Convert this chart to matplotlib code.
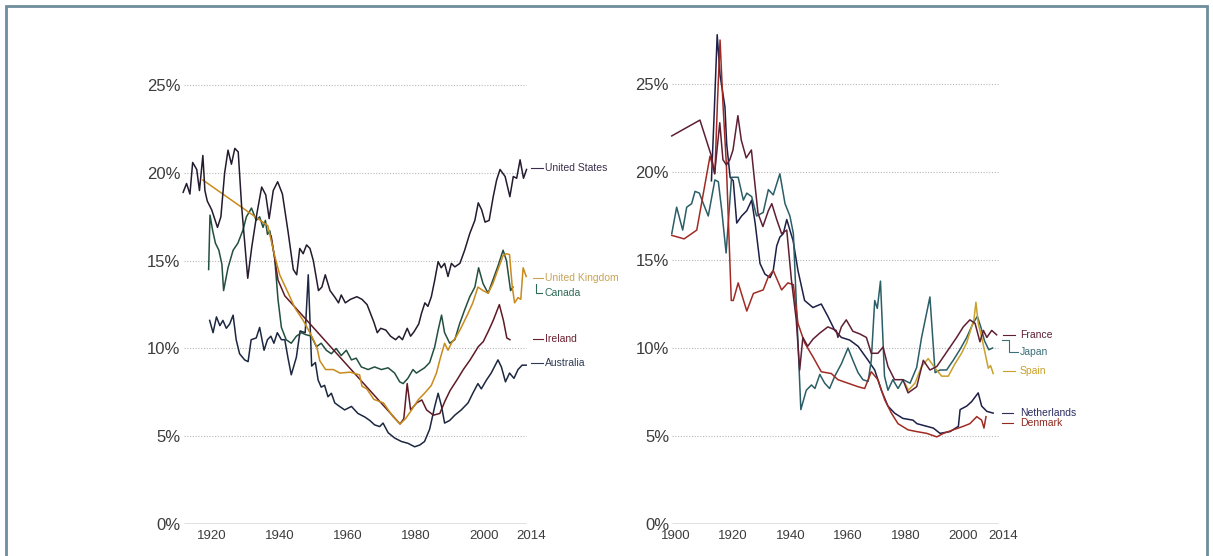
import matplotlib
matplotlib.use('Agg')
import matplotlib.pyplot as plt
from matplotlib.patches import Rectangle

plt.rcParams['font.family'] = ['Liberation Sans', 'DejaVu Sans']

# ---- left panel: English-speaking countries (top 1% income share, %) ----
us_years = [1911.6, 1912.6, 1913.6, 1914.4, 1915.6, 1916.4, 1917.4, 1918.0, 1918.7, 1920.0,
            1921.7, 1922.7, 1923.8, 1924.8, 1925.8, 1926.8, 1927.8, 1928.8, 1930.6, 1931.8,
            1933.3, 1934.7, 1935.9, 1936.9, 1938.1, 1939.4, 1940.8, 1942.5, 1944.0, 1945.0,
            1945.9, 1946.9, 1947.9, 1948.9, 1949.9, 1951.4, 1952.4, 1953.4, 1954.8, 1956.3,
            1957.3, 1958.1, 1959.3, 1960.8, 1962.7, 1964.2, 1965.7, 1966.7, 1967.7, 1968.7,
            1969.7, 1971.2, 1972.6, 1974.1, 1975.1, 1976.1, 1977.5, 1978.5, 1979.5, 1980.9,
            1981.7, 1982.7, 1983.6, 1984.6, 1985.6, 1986.6, 1987.5, 1988.5, 1989.5, 1990.5,
            1991.5, 1993.0, 1994.4, 1995.9, 1997.4, 1998.4, 1999.4, 2000.4, 2001.6, 2002.8,
            2003.8, 2004.8, 2006.3, 2007.7, 2008.7, 2009.7, 2010.7, 2011.7, 2012.6]
us_vals = [18.9, 19.4, 18.8, 20.6, 20.2, 19.0, 21.0, 19.0, 18.4, 17.9,
           16.9, 17.5, 20.0, 21.3, 20.5, 21.4, 21.2, 18.1, 14.0, 15.8,
           17.7, 19.2, 18.75, 17.4, 19.0, 19.5, 18.8, 16.6, 14.5, 14.2,
           15.7, 15.4, 15.9, 15.7, 15.0, 13.3, 13.5, 14.2, 13.3, 12.9,
           12.6, 13.05, 12.6, 12.8, 12.95, 12.8, 12.5, 12.0, 11.5, 10.9,
           11.15, 11.05, 10.7, 10.5, 10.7, 10.5, 11.15, 10.7, 10.95, 11.4,
           12.0, 12.6, 12.4, 12.95, 13.9, 14.95, 14.6, 14.85, 14.1, 14.85,
           14.65, 14.85, 15.6, 16.55, 17.3, 18.3, 17.9, 17.2, 17.3, 18.65,
           19.6, 20.2, 19.8, 18.65, 19.8, 19.7, 20.75, 19.7, 20.2]

uk_years = [1917.4, 1936.5, 1938.5, 1940.0, 1942.4, 1944.5, 1946.9, 1948.9, 1950.9, 1951.8,
            1953.5, 1955.8, 1957.7, 1960.7, 1963.5, 1964.2, 1965.6, 1967.7, 1970.5, 1973.4,
            1975.4, 1977.0, 1978.8, 1980.7, 1982.6, 1984.6, 1986.1, 1987.1, 1988.5, 1989.5,
            1990.5, 1992.0, 1993.4, 1995.4, 1996.8, 1998.3, 1999.8, 2001.3, 2002.7, 2004.2,
            2005.7, 2006.7, 2007.6, 2008.4, 2009.1, 2010.1, 2010.9, 2011.6, 2012.5]
uk_vals = [19.6, 17.0, 15.3, 14.2, 13.2, 12.3, 11.6, 10.9, 10.1, 9.3,
           8.8, 8.8, 8.6, 8.65, 8.5, 7.85, 7.7, 7.1, 6.9, 6.1,
           5.7, 6.0, 6.5, 7.07, 7.45, 7.9, 8.6, 9.35, 10.3, 9.9,
           10.3, 10.7, 11.2, 12.0, 12.6, 13.5, 13.3, 13.15, 13.7, 14.5,
           15.3, 15.4, 15.35, 13.5, 12.6, 12.9, 12.8, 14.6, 14.1]

canada_years = [1919.1, 1919.5, 1920.3, 1921.1, 1922.1, 1923.0, 1923.5, 1924.8, 1926.3, 1927.7,
                1929.2, 1930.2, 1931.7, 1933.1, 1934.1, 1935.1, 1935.8, 1936.4, 1937.1, 1938.5,
                1939.5, 1940.5, 1941.9, 1943.4, 1944.9, 1946.4, 1947.5, 1949.3, 1950.8, 1952.2,
                1953.7, 1955.2, 1956.6, 1958.1, 1959.6, 1961.1, 1962.5, 1964.0, 1966.0, 1967.9,
                1969.9, 1971.9, 1973.8, 1975.3, 1976.3, 1977.7, 1979.2, 1980.2, 1982.6, 1984.1,
                1985.6, 1986.6, 1987.6, 1988.5, 1990.0, 1991.5, 1992.9, 1994.4, 1995.9, 1997.4,
                1998.5, 1999.8, 2001.3, 2002.7, 2004.2, 2005.7, 2006.7, 2007.9, 2008.6]
canada_vals = [14.5, 17.6, 16.7, 16.0, 15.6, 14.8, 13.3, 14.6, 15.6, 16.0,
               16.75, 17.5, 18.0, 17.3, 17.5, 16.9, 17.3, 16.5, 16.7, 15.2,
               12.8, 11.2, 10.5, 10.3, 10.7, 10.9, 10.8, 10.7, 10.1, 10.3,
               9.9, 9.7, 10.0, 9.6, 9.9, 9.35, 9.45, 8.95, 8.8, 8.95,
               8.8, 8.9, 8.6, 8.1, 8.0, 8.3, 8.8, 8.6, 8.9, 9.2,
               10.1, 11.05, 11.9, 10.9, 10.3, 10.5, 11.4, 12.2, 12.95, 13.5,
               14.6, 13.7, 13.15, 13.9, 14.7, 15.6, 15.0, 13.3, 13.5]

ireland_years = [1937.5, 1939.5, 1941.5, 1975.4, 1976.5, 1977.5, 1978.5, 1980.3, 1981.8, 1983.2,
                 1985.2, 1987.1, 1988.6, 1990.1, 1992.1, 1994.0, 1996.0, 1998.4, 1999.9, 2001.4,
                 2002.8, 2004.6, 2005.8, 2006.8, 2007.7]
ireland_vals = [16.4, 13.9, 13.0, 5.7, 6.0, 8.0, 6.5, 6.9, 7.07, 6.5,
                6.2, 6.3, 7.0, 7.6, 8.2, 8.8, 9.35, 10.1, 10.4, 11.0,
                11.6, 12.5, 11.6, 10.6, 10.5]

australia_years = [1919.4, 1920.4, 1921.4, 1922.4, 1923.3, 1924.3, 1925.3, 1926.3, 1927.2, 1928.2,
                   1929.7, 1930.7, 1931.6, 1933.1, 1934.1, 1935.4, 1936.4, 1937.4, 1938.3, 1939.3,
                   1940.5, 1941.5, 1942.4, 1943.4, 1944.9, 1946.0, 1947.5, 1948.4, 1949.4, 1950.5,
                   1951.3, 1952.2, 1953.2, 1954.2, 1955.2, 1956.2, 1957.6, 1959.1, 1961.1, 1963.0,
                   1965.0, 1966.5, 1967.9, 1969.4, 1970.4, 1971.9, 1973.8, 1975.8, 1977.7, 1979.7,
                   1981.2, 1982.6, 1984.1, 1985.6, 1986.6, 1987.6, 1988.5, 1990.0, 1991.5, 1993.4,
                   1995.4, 1996.8, 1998.3, 1999.3, 2000.8, 2002.2, 2004.2, 2005.2, 2006.4, 2007.6,
                   2008.9, 2010.1, 2011.3, 2012.5]
australia_vals = [11.6, 10.9, 11.8, 11.3, 11.6, 11.15, 11.4, 11.9, 10.5, 9.7,
                  9.35, 9.25, 10.5, 10.6, 11.2, 9.9, 10.5, 10.7, 10.3, 10.9,
                  10.5, 10.5, 9.5, 8.5, 9.5, 11.0, 10.9, 14.2, 9.0, 9.2,
                  8.2, 7.8, 7.9, 7.25, 7.45, 6.9, 6.7, 6.5, 6.7, 6.3,
                  6.1, 5.9, 5.65, 5.55, 5.75, 5.2, 4.9, 4.7, 4.6, 4.4,
                  4.5, 4.7, 5.4, 6.7, 7.45, 6.7, 5.75, 5.9, 6.2, 6.5,
                  6.9, 7.45, 8.0, 7.7, 8.2, 8.6, 9.35, 8.95, 8.1, 8.6,
                  8.3, 8.8, 9.05, 9.05]

# ---- right panel: continental Europe and Japan ----
france_years = [1898.7, 1908.5, 1912.5, 1913.6, 1915.4, 1916.5, 1917.7, 1918.9, 1920.0, 1921.7,
                1922.9, 1924.6, 1926.4, 1927.5, 1928.7, 1930.4, 1932.3, 1933.5, 1935.2, 1936.9,
                1938.7, 1940.3, 1942.0, 1943.2, 1944.3, 1946.0, 1947.8, 1950.2, 1953.0, 1955.9,
                1956.5, 1957.7, 1959.4, 1961.7, 1964.1, 1966.4, 1968.1, 1970.4, 1972.2, 1973.9,
                1976.2, 1979.1, 1980.9, 1983.9, 1986.2, 1988.5, 1990.9, 1993.2, 1995.5, 1997.8,
                2000.1, 2002.4, 2004.2, 2005.9, 2007.1, 2008.3, 2010.0, 2011.7]
france_vals = [22.05, 22.95, 20.9, 19.9, 22.8, 20.7, 20.4, 20.7, 21.25, 23.2,
               21.8, 20.8, 21.25, 19.5, 17.65, 16.9, 17.8, 18.2, 17.3, 16.5,
               16.7, 13.9, 11.6, 8.75, 10.6, 10.1, 10.5, 10.85, 11.2, 11.0,
               10.6, 11.2, 11.6, 10.95, 10.8, 10.6, 9.7, 9.7, 10.05, 8.95,
               8.2, 8.2, 7.45, 7.8, 9.3, 8.75, 8.95, 9.5, 10.05, 10.6,
               11.2, 11.6, 11.4, 10.35, 11.0, 10.6, 11.0, 10.75]

japan_years = [1898.7, 1900.4, 1902.5, 1903.9, 1905.6, 1906.8, 1908.3, 1909.7, 1911.4, 1913.7,
               1914.9, 1916.1, 1917.6, 1919.5, 1921.8, 1923.6, 1924.8, 1926.5, 1928.2, 1930.5,
               1932.3, 1934.0, 1936.3, 1938.1, 1939.8, 1941.0, 1943.6, 1945.5, 1947.3, 1948.5,
               1950.2, 1951.9, 1953.6, 1955.4, 1957.7, 1960.0, 1961.7, 1963.5, 1965.2, 1967.0,
               1968.1, 1969.3, 1970.2, 1971.3, 1972.7, 1973.9, 1975.6, 1977.4, 1979.2, 1981.6,
               1983.9, 1985.6, 1988.5, 1990.3, 1992.0, 1994.3, 1996.6, 1998.9, 2001.3, 2003.5,
               2005.0, 2006.2, 2007.5, 2009.0, 2010.3]
japan_vals = [16.5, 18.0, 16.7, 18.0, 18.2, 18.9, 18.8, 18.2, 17.5, 19.55,
              19.45, 17.8, 15.4, 19.7, 19.7, 18.4, 18.8, 18.6, 17.5, 17.7,
              19.0, 18.7, 19.9, 18.2, 17.5, 16.5, 6.5, 7.6, 7.9, 7.7,
              8.5, 8.0, 7.7, 8.4, 9.1, 10.0, 9.3, 8.6, 8.2, 8.1,
              9.3, 12.7, 12.25, 13.8, 8.4, 7.6, 8.2, 7.7, 8.2, 8.0,
              8.9, 10.6, 12.9, 8.6, 8.75, 8.75, 9.3, 9.9, 10.6, 11.4,
              11.8, 11.2, 10.4, 9.9, 10.0]

spain_years = [1979.8, 1981.0, 1983.3, 1985.6, 1987.9, 1990.3, 1992.6, 1994.9, 1997.2, 1999.5,
               2001.3, 2003.0, 2003.8, 2004.5, 2005.3, 2006.5, 2007.7, 2008.8, 2009.6, 2010.5]
spain_vals = [8.0, 7.6, 8.0, 8.95, 9.4, 8.85, 8.4, 8.4, 9.1, 9.7,
              10.3, 11.2, 11.6, 12.6, 11.4, 10.6, 9.7, 8.85, 9.0, 8.55]

netherlands_years = [1912.5, 1913.5, 1914.5, 1915.5, 1917.2, 1917.8, 1919.0, 1920.1, 1921.3, 1923.0,
                     1924.8, 1926.5, 1927.7, 1929.4, 1931.1, 1932.9, 1934.0, 1935.2, 1936.3, 1937.5,
                     1938.7, 1940.9, 1942.6, 1944.9, 1947.8, 1950.7, 1953.0, 1955.4, 1957.7, 1960.6,
                     1963.5, 1967.0, 1969.3, 1971.6, 1973.9, 1976.2, 1979.1, 1982.6, 1984.0, 1987.4,
                     1989.7, 1992.0, 1995.5, 1998.4, 1999.0, 2001.3, 2003.0, 2005.3, 2006.5, 2008.3,
                     2010.5]
netherlands_vals = [19.5, 23.5, 27.8, 25.5, 23.7, 21.6, 19.7, 19.5, 17.1, 17.5,
                    17.8, 18.4, 17.1, 14.8, 14.2, 14.0, 14.4, 15.8, 16.3, 16.5,
                    17.3, 16.1, 14.4, 12.7, 12.3, 12.5, 11.8, 11.0, 10.6, 10.45,
                    10.1, 9.3, 8.75, 7.6, 6.7, 6.3, 6.0, 5.9, 5.7, 5.55,
                    5.45, 5.15, 5.25, 5.55, 6.5, 6.7, 6.95, 7.45, 6.7, 6.4,
                    6.3]

denmark_years = [1898.7, 1903.0, 1907.4, 1912.0, 1913.7, 1914.6, 1915.5, 1916.5, 1917.7, 1919.4,
                 1920.1, 1921.8, 1924.8, 1927.1, 1930.5, 1932.3, 1934.0, 1936.9, 1939.1, 1941.0,
                 1942.6, 1944.9, 1947.8, 1950.7, 1954.2, 1956.5, 1960.0, 1963.5, 1965.8, 1968.1,
                 1970.4, 1972.8, 1975.1, 1977.4, 1980.9, 1983.9, 1987.4, 1990.9, 1993.2, 1996.6,
                 2000.1, 2002.4, 2004.8, 2006.5, 2007.3, 2008.0]
denmark_vals = [16.4, 16.2, 16.7, 20.9, 19.9, 24.0, 27.5, 23.9, 20.4, 12.7,
                12.7, 13.7, 12.1, 13.1, 13.3, 14.05, 14.4, 13.3, 13.7, 13.6,
                11.4, 10.3, 9.5, 8.65, 8.55, 8.2, 8.0, 7.8, 7.7, 8.65,
                8.2, 7.05, 6.3, 5.7, 5.35, 5.25, 5.15, 4.95, 5.15, 5.35,
                5.55, 5.7, 6.1, 5.9, 5.45, 6.1]

W, H = 1213, 556
fig = plt.figure(figsize=(W / 100, H / 100), dpi=100)
fig.patch.set_facecolor('white')

grid_color = '#b8b8b8'
tick_color = '#3c3c3c'


def setup(ax, x0, x1, xticks):
    ax.set_ylim(0, 28.5)
    for s in ax.spines.values():
        s.set_visible(False)
    ax.hlines([5, 10, 15, 20, 25], x0, x1, colors=grid_color, linestyles=(0, (1, 1.5)), lw=0.8, zorder=1)
    ax.hlines(0, x0, x1, colors='#6a6a6a', lw=1.0, zorder=1)
    ax.set_yticks([0, 5, 10, 15, 20, 25])
    ax.set_yticklabels(['0%', '5%', '10%', '15%', '20%', '25%'])
    ax.set_xticks(xticks)
    ax.set_xticklabels([str(t) for t in xticks])
    ax.tick_params(axis='y', length=0, pad=0.5, labelsize=12, labelcolor=tick_color)
    ax.tick_params(axis='x', length=0, pad=4, labelsize=9.5, labelcolor=tick_color)
    ax.patch.set_alpha(0)


# left panel
ax1 = fig.add_axes([181.1 / W, 32 / H, 357 / W, 500.2 / H])
ax1.set_xlim(1911, 2016)
setup(ax1, 1912, 2012.5, [1920, 1940, 1960, 1980, 2000, 2014])

lw = 1.1
ax1.plot(australia_years, australia_vals, color='#1c2740', lw=lw)
ax1.plot(canada_years, canada_vals, color='#234f3e', lw=lw)
ax1.plot(ireland_years, ireland_vals, color='#5e1b26', lw=lw)
ax1.plot(uk_years, uk_vals, color='#c98a1c', lw=lw)
ax1.plot(us_years, us_vals, color='#241b2e', lw=lw)

lab = dict(fontsize=7.5, va='center', ha='left', clip_on=False)
ln = dict(lw=0.8, clip_on=False)
ax1.plot([2013.9, 2017.3], [20.26, 20.26], color='#3a2d4a', **ln)
ax1.text(2018, 20.26, 'United States', color='#3a2d4a', **lab)
ax1.plot([2014.5, 2017.3], [14.02, 14.02], color='#c9a455', **ln)
ax1.text(2018, 14.02, 'United Kingdom', color='#c9a455', **lab)
ax1.plot([2015.4, 2015.4, 2017.0], [13.68, 13.18, 13.18], color='#2e6b55', **ln)
ax1.text(2018, 13.18, 'Canada', color='#2e6b55', **lab)
ax1.plot([2014.6, 2017.3], [10.54, 10.54], color='#6b2030', **ln)
ax1.text(2018, 10.54, 'Ireland', color='#6b2030', **lab)
ax1.plot([2013.9, 2017.3], [9.16, 9.16], color='#2e3a55', **ln)
ax1.text(2018, 9.16, 'Australia', color='#2e3a55', **lab)

# right panel
ax2 = fig.add_axes([669.75 / W, 32 / H, 342.1 / W, 501.6 / H])
ax2.set_xlim(1898, 2017)
setup(ax2, 1898.7, 2012.2, [1900, 1920, 1940, 1960, 1980, 2000, 2014])

ax2.plot(netherlands_years, netherlands_vals, color='#1d1f47', lw=lw)
ax2.plot(japan_years, japan_vals, color='#2b5e66', lw=lw)
ax2.plot(denmark_years, denmark_vals, color='#a02b24', lw=lw)
ax2.plot(spain_years, spain_vals, color='#c9a02a', lw=lw)
ax2.plot(france_years, france_vals, color='#5e1f35', lw=lw)

ax2.plot([2013.9, 2018.0], [10.74, 10.74], color='#5e1f35', **ln)
ax2.text(2019.8, 10.74, 'France', color='#5e1f35', **lab)
ax2.plot([2013.4, 2016.1, 2016.1, 2019.1], [10.45, 10.45, 9.79, 9.79], color='#3a6f7a', **ln)
ax2.text(2019.8, 9.79, 'Japan', color='#3a6f7a', **lab)
ax2.plot([2013.9, 2018.0], [8.71, 8.71], color='#c9a02a', **ln)
ax2.text(2019.8, 8.71, 'Spain', color='#c9a02a', **lab)
ax2.plot([2013.4, 2017.4], [6.29, 6.29], color='#2a2d60', **ln)
ax2.text(2019.8, 6.29, 'Netherlands', color='#2a2d60', **lab)
ax2.plot([2013.4, 2017.4], [5.72, 5.72], color='#8e2a1f', **ln)
ax2.text(2019.8, 5.72, 'Denmark', color='#8e2a1f', **lab)

# frame around the picture
fig.patches.append(Rectangle((6 / W, -0.1), 1201 / W, (H - 6) / H + 0.1, transform=fig.transFigure,
                             fill=False, edgecolor='#6f8d9c', lw=2))

fig.savefig('out.png', dpi=100)
